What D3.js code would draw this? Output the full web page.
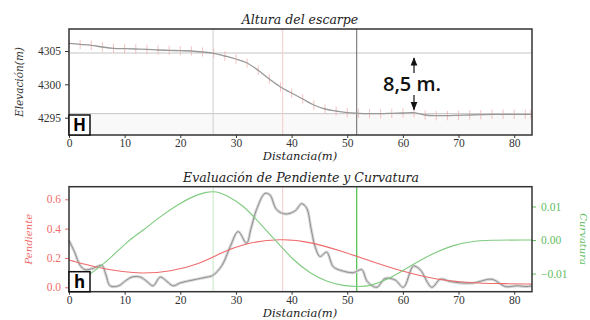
<!DOCTYPE html>
<html>
<head>
<meta charset="utf-8">
<script src="https://cdn.jsdelivr.net/npm/d3@7"></script>
<style>
  body { margin: 0; background: #fff; }
  text { font-family: "DejaVu Serif", serif; }
  .tick text { font-family: "Liberation Serif", serif; font-size: 11.5px; }
</style>
</head>
<body>
<script>

// perfil de elevacion (cada 2 m)
var distancia = [0,2,4,6,8,10,12,14,16,18,20,22,24,26,28,30,32,34,36,38,40,42,44,46,48,50,52,54,56,58,60,62,64,66,68,70,72,74,76,78,80,82,83];
var elevacion = [4306.15,4306.0,4305.85,4305.6,4305.4,4305.35,4305.3,4305.25,4305.15,4305.1,4305.05,4305.0,4304.85,4304.65,4304.25,4303.8,4303.2,4302.1,4300.8,4299.6,4298.7,4297.8,4296.9,4296.3,4296.0,4295.75,4295.65,4295.6,4295.6,4295.65,4295.7,4295.75,4295.4,4295.3,4295.3,4295.35,4295.4,4295.45,4295.5,4295.5,4295.5,4295.5,4295.5];
var errorElev = 0.7;
var nivelSup = 4304.7, nivelInf = 4295.6;

// pendiente medida
var pendX = [0,1,2,2.9,4.4,5.9,6.6,7.4,8.9,10,11.3,12.8,14,15.1,16.4,17.6,18.7,20,22.3,24.8,25.8,27.5,29,30.4,31.9,32.7,33.7,35.2,36.1,37.3,38.8,40.6,41.8,42.7,43.5,44.2,45.1,46.3,47.5,49.3,51.1,52.6,53.6,55.3,56.8,58.6,60.1,61.9,63.1,65.2,66.7,68.5,70.3,72.7,76,78.4,80.5,82.3,83.2];
var pendY = [0.32,0.24,0.15,0.12,0.13,0.15,0.09,0.01,0.01,0.04,0.07,0.07,0.04,0.01,0.07,0.04,0.01,0.03,0.05,0.07,0.08,0.15,0.28,0.38,0.30,0.40,0.53,0.64,0.63,0.53,0.50,0.52,0.57,0.54,0.40,0.28,0.21,0.24,0.14,0.11,0.10,0.12,0.04,0.00,0.06,0.05,0.00,0.145,0.12,0.00,0.055,0.04,0.03,0.03,0.055,0.005,0.01,0.005,0.01];

// pendiente ajustada
var ajusteX = [0,5.6,9.8,13,18.2,23.5,27.1,31.3,38.2,43.3,49.3,54.1,60.1,66.1,72.1,77,83.2];
var ajusteY = [0.186,0.13,0.105,0.094,0.106,0.16,0.23,0.30,0.334,0.31,0.243,0.18,0.106,0.05,0.031,0.025,0.022];

// curvatura
var curvX = [0,3.8,7.4,10.4,13.4,16.4,19.4,22.3,24.8,26.5,28.3,31.3,34.3,37.3,40.3,43.3,46.3,49.3,52.3,54.1,57.1,60.1,63.1,66.1,69.1,72.1,75.1,83.2];
var curvY = [-0.0135,-0.0104,-0.0055,-0.0005,0.003,0.007,0.0104,0.0131,0.0144,0.0145,0.0134,0.0104,0.005,-0.0005,-0.006,-0.0099,-0.0124,-0.0137,-0.0139,-0.0137,-0.0119,-0.009,-0.006,-0.0035,-0.0015,-0.0005,0,0];

// lineas verticales
var xInflexion1 = 25.9, xMax = 38.4, xInflexion2 = 51.7;

var ticksX = [0,10,20,30,40,50,60,70,80];
var ticksElev = [4295,4300,4305];
var ticksPend = [0,0.2,0.4,0.6];
var ticksCurv = [-0.01,0,0.01];

var width = 590, height = 320;
var left = 69, right = 532;

var svg = d3.select("body").append("svg")
    .attr("width", width)
    .attr("height", height);

var x = d3.scaleLinear().domain([0, 83.2]).range([left, right]);

var rojo = "#ef6b6b", verde = "#62bd62";

function marco(g, t, b) {
  g.append("rect")
    .attr("x", left).attr("y", t)
    .attr("width", right - left).attr("height", b - t)
    .attr("fill", "none").attr("stroke", "#333").attr("stroke-width", 1.5);
}

function letra(g, b, txt) {
  g.append("rect")
    .attr("x", left).attr("y", b - 20)
    .attr("width", 21).attr("height", 20)
    .attr("fill", "#fff").attr("stroke", "#111").attr("stroke-width", 1.5);
  g.append("text")
    .attr("x", left + 10.5).attr("y", b - 4)
    .attr("text-anchor", "middle")
    .style("font-family", "'Open Sans', sans-serif")
    .style("font-weight", "bold").style("font-size", "17px")
    .text(txt);
}

function estiloEje(g, color) {
  g.select(".domain").remove();
  g.selectAll(".tick line").attr("stroke", color);
  g.selectAll(".tick text").attr("fill", color);
}

// ---------- panel superior ----------
var t1 = 29, b1 = 135;
var yE = d3.scaleLinear().domain([4292.4, 4308.3]).range([b1, t1]);
var arriba = svg.append("g");

// franja bajo el nivel inferior
arriba.append("rect")
  .attr("x", left).attr("y", yE(nivelInf))
  .attr("width", right - left).attr("height", b1 - yE(nivelInf))
  .attr("fill", "#f9f9f9");

arriba.selectAll(".nivel")
  .data([nivelSup, nivelInf])
  .enter().append("line")
  .attr("x1", left).attr("x2", right)
  .attr("y1", function(d) { return yE(d); })
  .attr("y2", function(d) { return yE(d); })
  .attr("stroke", "#c4c4c4").attr("stroke-width", 1);

arriba.append("line")
  .attr("x1", x(xInflexion1)).attr("x2", x(xInflexion1))
  .attr("y1", t1).attr("y2", b1)
  .attr("stroke", "#cfcfcf");
arriba.append("line")
  .attr("x1", x(xMax)).attr("x2", x(xMax))
  .attr("y1", t1).attr("y2", b1)
  .attr("stroke", "#f6caca");
arriba.append("line")
  .attr("x1", x(xInflexion2)).attr("x2", x(xInflexion2))
  .attr("y1", t1).attr("y2", b1)
  .attr("stroke", "#666");

// barras de error
arriba.selectAll(".err")
  .data(distancia)
  .enter().append("line")
  .attr("x1", function(d) { return x(d); })
  .attr("x2", function(d) { return x(d); })
  .attr("y1", function(d, i) { return yE(elevacion[i] - errorElev); })
  .attr("y2", function(d, i) { return yE(elevacion[i] + errorElev); })
  .attr("stroke", "#f5b3b3").attr("stroke-width", 1).attr("opacity", 0.8);

var lineaElev = d3.line()
  .x(function(d, i) { return x(distancia[i]); })
  .y(function(d) { return yE(d); })
  .curve(d3.curveCatmullRom);

arriba.append("path")
  .datum(elevacion)
  .attr("d", lineaElev)
  .attr("fill", "none").attr("stroke", "#999").attr("stroke-width", 1.3);

arriba.append("g")
  .attr("transform", "translate(0," + b1 + ")")
  .call(d3.axisBottom(x).tickValues(ticksX).tickSize(3).tickPadding(1).tickFormat(d3.format("d")))
  .call(estiloEje, "#333");

arriba.append("g")
  .attr("transform", "translate(" + left + ",0)")
  .call(d3.axisLeft(yE).tickValues(ticksElev).tickSize(4).tickPadding(4).tickFormat(d3.format("d")))
  .call(estiloEje, "#333");

marco(arriba, t1, b1);
letra(arriba, b1, "H");

// flecha 8,5 m
var xa = 414;
var defs = svg.append("defs");
defs.append("marker")
  .attr("id", "punta")
  .attr("viewBox", "0 0 10 10").attr("refX", 9).attr("refY", 5)
  .attr("markerWidth", 7).attr("markerHeight", 7)
  .attr("orient", "auto-start-reverse")
  .append("path").attr("d", "M0,1 L10,5 L0,9 z").attr("fill", "#111");

arriba.append("line")
  .attr("x1", xa).attr("x2", xa)
  .attr("y1", yE(nivelSup) + 5).attr("y2", yE(nivelInf) - 4)
  .attr("stroke", "#111").attr("stroke-width", 1.2)
  .attr("marker-start", "url(#punta)").attr("marker-end", "url(#punta)");

arriba.append("rect")
  .attr("x", 379).attr("y", 73).attr("width", 66).attr("height", 22)
  .attr("fill", "#fff");
arriba.append("text")
  .attr("x", 412).attr("y", 91)
  .attr("text-anchor", "middle")
  .style("font-family", "'Open Sans', sans-serif")
  .style("font-size", "20px").style("font-weight", "600")
  .attr("fill", "#111")
  .text("8,5 m.");

arriba.append("text")
  .attr("x", 300).attr("y", 24)
  .attr("text-anchor", "middle")
  .style("font-style", "italic").style("font-size", "12.5px")
  .attr("fill", "#222")
  .text("Altura del escarpe");

arriba.append("text")
  .attr("x", 300).attr("y", 160)
  .attr("text-anchor", "middle")
  .style("font-style", "italic").style("font-size", "11.5px")
  .attr("fill", "#222")
  .text("Distancia(m)");

arriba.append("text")
  .attr("transform", "translate(23," + ((t1 + b1) / 2) + ") rotate(-90)")
  .attr("text-anchor", "middle")
  .style("font-style", "italic").style("font-size", "10.5px")
  .attr("fill", "#333")
  .text("Elevación(m)");

// ---------- panel inferior ----------
var t2 = 186.7, b2 = 291.7;
var yP = d3.scaleLinear().domain([-0.030, 0.686]).range([b2, t2]);
var yC = d3.scaleLinear().domain([-0.0154, 0.0159]).range([b2, t2]);
var abajo = svg.append("g");

abajo.append("line")
  .attr("x1", x(xInflexion1)).attr("x2", x(xInflexion1))
  .attr("y1", t2).attr("y2", b2)
  .attr("stroke", "#c4e6c4");
abajo.append("line")
  .attr("x1", x(xMax)).attr("x2", x(xMax))
  .attr("y1", t2).attr("y2", b2)
  .attr("stroke", "#f6caca");
abajo.append("line")
  .attr("x1", x(xInflexion2)).attr("x2", x(xInflexion2))
  .attr("y1", t2).attr("y2", b2)
  .attr("stroke", "#4cbf4c").attr("stroke-width", 1.2);

var lineaPend = d3.line()
  .x(function(d, i) { return x(pendX[i]); })
  .y(function(d) { return yP(d); })
  .curve(d3.curveCatmullRom);

// sombra + linea de la pendiente medida
abajo.append("path")
  .datum(pendY)
  .attr("d", lineaPend)
  .attr("fill", "none").attr("stroke", "#d6d6d6").attr("stroke-width", 3);
abajo.append("path")
  .datum(pendY)
  .attr("d", lineaPend)
  .attr("fill", "none").attr("stroke", "#8f8f8f").attr("stroke-width", 1);

abajo.append("path")
  .datum(ajusteY)
  .attr("d", d3.line()
    .x(function(d, i) { return x(ajusteX[i]); })
    .y(function(d) { return yP(d); })
    .curve(d3.curveBasis))
  .attr("fill", "none").attr("stroke", rojo).attr("stroke-width", 1.1);

abajo.append("path")
  .datum(curvY)
  .attr("d", d3.line()
    .x(function(d, i) { return x(curvX[i]); })
    .y(function(d) { return yC(d); })
    .curve(d3.curveBasis))
  .attr("fill", "none").attr("stroke", "#7fcb7f").attr("stroke-width", 1.1);

abajo.append("g")
  .attr("transform", "translate(0," + b2 + ")")
  .call(d3.axisBottom(x).tickValues(ticksX).tickSize(3).tickPadding(1).tickFormat(d3.format("d")))
  .call(estiloEje, "#333");

abajo.append("g")
  .attr("transform", "translate(" + left + ",0)")
  .call(d3.axisLeft(yP).tickValues(ticksPend).tickSize(4).tickPadding(4).tickFormat(d3.format(".1f")))
  .call(estiloEje, rojo);

abajo.append("g")
  .attr("transform", "translate(" + right + ",0)")
  .call(d3.axisRight(yC).tickValues(ticksCurv).tickSize(4).tickPadding(5).tickFormat(d3.format(".2f")))
  .call(estiloEje, verde);

marco(abajo, t2, b2);
letra(abajo, b2, "h");

abajo.append("text")
  .attr("x", 301).attr("y", 182)
  .attr("text-anchor", "middle")
  .style("font-style", "italic").style("font-size", "12.5px")
  .attr("fill", "#222")
  .text("Evaluación de Pendiente y Curvatura");

abajo.append("text")
  .attr("x", 300).attr("y", 316.5)
  .attr("text-anchor", "middle")
  .style("font-style", "italic").style("font-size", "11.5px")
  .attr("fill", "#222")
  .text("Distancia(m)");

abajo.append("text")
  .attr("transform", "translate(32," + ((t2 + b2) / 2) + ") rotate(-90)")
  .attr("text-anchor", "middle")
  .style("font-style", "italic").style("font-size", "10px")
  .attr("fill", rojo)
  .text("Pendiente");

abajo.append("text")
  .attr("transform", "translate(580," + ((t2 + b2) / 2) + ") rotate(90)")
  .attr("text-anchor", "middle")
  .style("font-style", "italic").style("font-size", "10px")
  .attr("fill", verde)
  .text("Curvatura");

</script>
</body>
</html>
